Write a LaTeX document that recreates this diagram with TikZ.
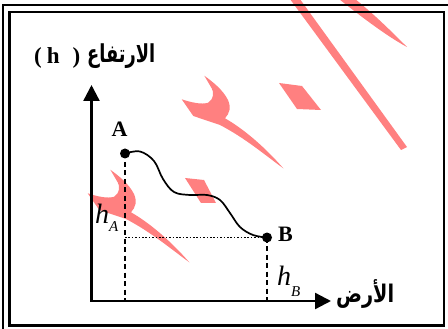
\documentclass[tikz,border=0pt]{standalone}
\usepackage{fontspec}
\usepackage{graphicx}
\setmainfont{Liberation Serif}
\newfontfamily\arabicfont[Script=Arabic]{DejaVu Sans}
\TeXXeTstate=1
\usetikzlibrary{arrows.meta}
\definecolor{wm}{RGB}{255,128,128}
\newcommand\fsz[1]{\fontsize{#1}{#1}\selectfont}
\newcommand\wmtwo[1]{%
  \fill[wm,shift={#1}] (204.3,75.7) .. controls (213,82) and (223,90) .. (228,100)
    .. controls (231,107) and (230,113) .. (225,118.3)
    .. controls (242,128) and (263,145) .. (283.3,168.3)
    .. controls (265,155) and (245,138) .. (220,125)
    -- (193.3,116) -- (181.7,99.3)
    .. controls (190,102) and (201,105) .. (208.3,102.7)
    .. controls (214,99) and (214,92) .. (211.7,88.3) -- cycle;}
\tikzset{
  axisline/.style={line width=2.4pt,{Triangle[length=16pt,width=16pt]}-{Triangle[length=16pt,width=16pt]}},
  dashline/.style={line width=1.7pt,dash pattern=on 5pt off 3.5pt},
  dotline/.style={line width=1.6pt,dash pattern=on 1.6pt off 1.8pt},
  dot/.style={circle,fill=black,inner sep=0pt,minimum size=10pt},
  curve/.style={line width=1.7pt},
  ptlabel/.style={font=\fsz{22}\bfseries,inner sep=0pt},
  hlabel/.style={anchor=base west,inner sep=0pt,font=\fsz{28}\itshape},
  arlabel/.style={inner sep=0pt,anchor=base west,font=\arabicfont\bfseries}
}
\begin{document}
\begin{tikzpicture}[x=1pt,y=-1pt]
\useasboundingbox (0,0) rectangle (448,329);
% watermark
\wmtwo{(0,0)}
\wmtwo{(-94,94)}
\fill[wm] (279,83) -- (302,86) -- (321,110) -- (297,109) -- cycle;
\fill[wm] (185,178) -- (204,180) -- (216,203) -- (201,203) -- cycle;
\fill[wm] (287,-5) -- (297,-5) -- (407,147) -- (401,150) -- cycle;
\fill[wm] (334,-5) .. controls (365,20) and (390,38) .. (407,47)
  .. controls (392,32) and (372,12) .. (350,-5) -- cycle;
% frame
\draw[line width=1.8pt] (3,5) rectangle (450.5,332.5);
\draw[line width=2.4pt] (9.5,12) rectangle (444,325.5);
% axes
\coordinate (O) at (91.5,301);
\coordinate (ytip) at (91.5,85);
\coordinate (xtip) at (331,301);
\draw[axisline] (ytip) -- (O) -- (xtip);
% points
\node[dot] (A) at (125,153.5) {};
\node[dot] (B) at (267,237.5) {};
\draw[dashline] (A.center) -- (A.center |- O);
\draw[dashline] (B.center) -- (B.center |- O);
\draw[dotline] (A.center |- B.center) -- (B.center);
\draw[curve] plot[smooth,tension=0.6] coordinates {(A.center) (140,151.5) (154,161) (163,179) (174,192) (190,195) (207,195) (220,200) (230,213) (240,227) (253,235) (B.center)};
% labels
\node[ptlabel] (lA) at (119.5,129.5) {A};
\node[ptlabel] (lB) at (285.5,234) {B};
\node[hlabel] (hA) at (95,223) {h\fsz{15}\raisebox{-9pt}{A}};
\node[hlabel] (hB) at (277,285) {h\fsz{15}\raisebox{-11pt}{B}};
\node[inner sep=0pt,anchor=base west,font=\fsz{23}\bfseries] (ht) at (34,64) {(\hspace{5pt}h\hspace{13pt})};
\node[arlabel] (at) at (87,63) {\resizebox{68pt}{1.3\height}{\fsz{19}\beginR الارتفاع\endR}};
\node[arlabel] (ax) at (336,302) {\resizebox{58pt}{1.35\height}{\fsz{18}\beginR الأرض\endR}};
\end{tikzpicture}
\end{document}
